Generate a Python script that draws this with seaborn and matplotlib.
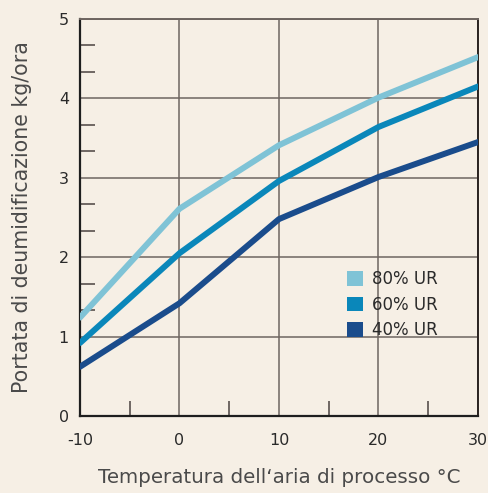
import pandas as pd
import matplotlib.pyplot as plt
from matplotlib.patches import Patch
from matplotlib.ticker import MultipleLocator, FixedLocator
import seaborn as sns

# values
temps = [-10, 0, 10, 20, 30]
ur80 = [1.24, 2.61, 3.41, 4.01, 4.52]
ur60 = [0.92, 2.05, 2.96, 3.64, 4.15]
ur40 = [0.62, 1.42, 2.48, 3.01, 3.45]
series = ["80% UR", "60% UR", "40% UR"]
colors = ["#7fc3d6", "#0a87ba", "#1a4c8c"]

df = pd.DataFrame({
    "T": temps * 3,
    "kg": ur80 + ur60 + ur40,
    "UR": [s for s in series for _ in temps],
})

bg = "#f6efe5"
grid_c = "#6e6560"
txt_c = "#2a2a2a"

sns.set_theme(style="white")
plt.rcParams["font.family"] = ["DejaVu Sans"]
plt.rcParams["axes.unicode_minus"] = False

fig = plt.figure(figsize=(4.89, 4.93), dpi=100, facecolor=bg)
ax = fig.add_axes([0.1636, 0.1562, 0.8139, 0.8053])
ax.set_facecolor(bg)

sns.lineplot(data=df, x="T", y="kg", hue="UR", palette=colors,
             linewidth=4.3, legend=False, ax=ax, zorder=3)

ax.set_xlim(-10, 30)
ax.set_ylim(0, 5)
ax.set_xticks([-10, 0, 10, 20, 30])
ax.set_yticks([0, 1, 2, 3, 4, 5])
ax.xaxis.set_minor_locator(MultipleLocator(5))
# thirds between the major ticks, but none below 1
ax.yaxis.set_minor_locator(FixedLocator([k + f for k in range(1, 5) for f in (1 / 3, 2 / 3)]))
ax.grid(True, which="major", color=grid_c, linewidth=1.1, zorder=1)
ax.tick_params(which="major", length=0, labelsize=11.5, colors=txt_c, pad=8)
ax.tick_params(which="minor", bottom=True, left=True, direction="in",
               length=10.5, width=1.1, color="#4a4240")
ax.tick_params(axis="x", which="major", pad=12)

for side in ["left", "bottom"]:
    ax.spines[side].set_color("#1e1e1e")
    ax.spines[side].set_linewidth(1.6)
for side in ["top", "right"]:
    ax.spines[side].set_color(grid_c)
    ax.spines[side].set_linewidth(1.4)
ax.spines["right"].set_color("#2a2320")

ax.set_xlabel("Temperatura dell\u2018aria di processo \u00b0C", fontsize=14.3,
              color="#4a4a4a", labelpad=15)
ax.set_ylabel("Portata di deumidificazione kg/ora", fontsize=14.8,
              color="#4a4a4a", labelpad=19)

handles = [Patch(facecolor=c, edgecolor="none", label=s) for s, c in zip(series, colors)]
ax.legend(handles=handles, loc="upper left", bbox_to_anchor=(0.632, 0.405),
          frameon=False, fontsize=12, handlelength=1.0, handleheight=1.0,
          handletextpad=0.55, labelspacing=0.45, labelcolor=txt_c)

fig.savefig("out.png", dpi=100, facecolor=bg)
